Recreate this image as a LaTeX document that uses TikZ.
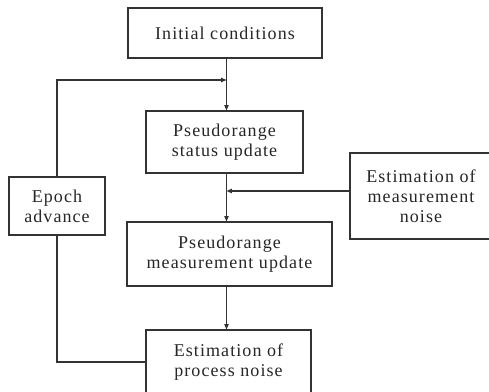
\documentclass[tikz,border=0pt]{standalone}
\usepackage{fontspec}
\setmainfont{Liberation Serif}[LetterSpace=6]
\usetikzlibrary{arrows.meta,positioning,calc}
\begin{document}
\begin{tikzpicture}[x=0.75pt, y=-0.75pt, line width=0.8pt, draw=black!80,
  box/.style={draw=black!80, rectangle, inner sep=0pt, align=center, text=black!85, font=\fontsize{13.5}{15}\selectfont},
  arr/.style={-{Triangle[length=4pt,width=3.2pt]}}]
\useasboundingbox (0,0) rectangle (489,392);
\node[box, minimum width=194*0.75pt, minimum height=50*0.75pt] (init) at (225,33) {Initial conditions};
\node[box, minimum width=157*0.75pt, minimum height=62*0.75pt] (status) at (224.5,142) {Pseudorange\\status update};
\node[box, minimum width=142*0.75pt, minimum height=86*0.75pt] (measnoise) at (421,196) {Estimation of\\measurement\\noise};
\node[box, minimum width=96*0.75pt, minimum height=58*0.75pt] (epoch) at (57,206) {Epoch\\advance};
\node[box, minimum width=205*0.75pt, minimum height=64*0.75pt] (measupd) at (229.5,254) {Pseudorange\\measurement update};
\node[box, minimum width=165*0.75pt, minimum height=64*0.75pt] (procnoise) at (228.5,362) {Estimation of\\process noise};
\coordinate (spine) at (226.5,0);
\coordinate (joinA) at (226.5,80);
\coordinate (joinB) at (226.5,191);
\draw[arr] (init.south -| spine) -- (status.north -| spine);
\draw[arr] (epoch.north) |- (joinA);
\draw[arr] (status.south -| spine) -- (measupd.north -| spine);
\draw[arr] (measnoise.west |- joinB) -- (joinB);
\draw[arr] (measupd.south -| spine) -- (procnoise.north -| spine);
\draw (procnoise.west) -| (epoch.south);
\end{tikzpicture}
\end{document}
